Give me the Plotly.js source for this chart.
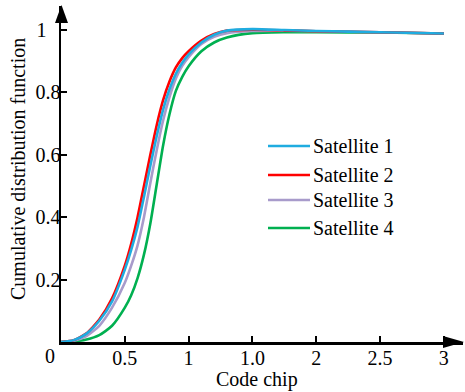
<!DOCTYPE html>
<html>
<head>
<meta charset="utf-8">
<script src="https://cdn.plot.ly/plotly-3.0.1.min.js"></script>
<style>
  html, body { margin: 0; padding: 0; background: #fff; }
  #chart { width: 465px; height: 392px; }
</style>
</head>
<body>
<div id="chart"></div>
<script>
// Code-phase error CDF for four satellites
const codeChip = [0, 0.1, 0.2, 0.3, 0.4, 0.5, 0.55, 0.6, 0.65, 0.7, 0.75, 0.8, 0.85, 0.9, 0.95, 1.0, 1.1, 1.2, 1.3, 1.5, 1.75, 2.0, 2.5, 3.0];

const sat1 = [0, 0.006, 0.027, 0.068, 0.13, 0.232, 0.295, 0.37, 0.465, 0.565, 0.66, 0.745, 0.81, 0.86, 0.895, 0.922, 0.96, 0.985, 0.998, 1.003, 1.0, 0.997, 0.993, 0.989];
const sat2 = [0, 0.006, 0.028, 0.072, 0.14, 0.245, 0.315, 0.40, 0.50, 0.60, 0.695, 0.775, 0.835, 0.88, 0.91, 0.932, 0.966, 0.987, 0.998, 1.001, 0.999, 0.996, 0.993, 0.989];
const sat3 = [0, 0.004, 0.019, 0.052, 0.11, 0.19, 0.245, 0.31, 0.40, 0.51, 0.615, 0.71, 0.785, 0.845, 0.885, 0.913, 0.955, 0.978, 0.99, 0.997, 0.998, 0.996, 0.993, 0.989];
const sat4 = [0, 0.002, 0.008, 0.022, 0.052, 0.11, 0.15, 0.205, 0.28, 0.38, 0.505, 0.63, 0.73, 0.805, 0.85, 0.884, 0.932, 0.96, 0.976, 0.99, 0.993, 0.993, 0.992, 0.989];

const seriesNames = ['Satellite 1', 'Satellite 2', 'Satellite 3', 'Satellite 4'];
const seriesValues = [sat1, sat2, sat3, sat4];
const seriesColors = ['#1FACE0', '#FF0000', '#A89BCB', '#00B050'];

const xTickVals = [0.5, 1, 1.5, 2, 2.5, 3];
const xTickText = ['0.5', '1', '1.0', '2', '2.5', '3'];
const yTickVals = [0.2, 0.4, 0.6, 0.8, 1];
// the top label sits a little left of the others
const yTickText = ['0.2', '0.4', '0.6', '0.8', '1\u2002\u2009'];

const FONT = '"Times New Roman", "Liberation Serif", Times, serif';

// plot box in pixels
const W = 465, H = 392;
const M = { l: 61, r: 2, t: 6, b: 50 };
const plotW = W - M.l - M.r, plotH = H - M.t - M.b;
const px = p => (p - M.l) / plotW;          // page x pixel -> paper
const py = p => (H - M.b - p) / plotH;      // page y pixel -> paper

// draw Satellite 4 first so Satellite 1 ends up on top
const traces = [];
for (let i = seriesNames.length - 1; i >= 0; i--) {
  traces.push({
    x: codeChip,
    y: seriesValues[i],
    name: seriesNames[i],
    type: 'scatter',
    mode: 'lines',
    line: { color: seriesColors[i], width: 2.6, shape: 'spline', smoothing: 0.6 },
    showlegend: false,
    hoverinfo: 'skip'
  });
}

const shapes = [];
const annotations = [];

// hand-placed legend: long line sample + label
const legendRows = [146, 175, 200, 228];
seriesNames.forEach((name, i) => {
  shapes.push({
    type: 'line', xref: 'paper', yref: 'paper',
    x0: px(268), x1: px(310), y0: py(legendRows[i]), y1: py(legendRows[i]),
    line: { color: seriesColors[i], width: 2.6 }
  });
  annotations.push({
    xref: 'paper', yref: 'paper', x: px(311), y: py(legendRows[i]),
    xanchor: 'left', yanchor: 'middle', showarrow: false,
    text: name, font: { family: FONT, size: 20, color: '#000' }
  });
});

// axis arrowheads
shapes.push({
  type: 'path', xref: 'paper', yref: 'paper',
  path: `M ${px(443)} ${py(336)} L ${px(464)} ${py(342)} L ${px(443)} ${py(348)} Z`,
  fillcolor: '#000', line: { color: '#000', width: 0 }
});
shapes.push({
  type: 'path', xref: 'paper', yref: 'paper',
  path: `M ${px(55)} ${py(23)} L ${px(61.5)} ${py(5)} L ${px(68)} ${py(23)} Z`,
  fillcolor: '#000', line: { color: '#000', width: 0 }
});

// axis titles and origin label
annotations.push({
  xref: 'paper', yref: 'paper', x: px(257), y: py(379),
  xanchor: 'center', yanchor: 'middle', showarrow: false,
  text: 'Code chip', font: { family: FONT, size: 20, color: '#000' }
});
annotations.push({
  xref: 'paper', yref: 'paper', x: px(18), y: py(169),
  xanchor: 'center', yanchor: 'middle', showarrow: false, textangle: -90,
  text: 'Cumulative distribution function', font: { family: FONT, size: 20, color: '#000' }
});
annotations.push({
  xref: 'paper', yref: 'paper', x: px(50), y: py(356),
  xanchor: 'center', yanchor: 'middle', showarrow: false,
  text: '0', font: { family: FONT, size: 20, color: '#000' }
});

const layout = {
  width: W, height: H,
  margin: M,
  paper_bgcolor: '#fff', plot_bgcolor: '#fff',
  showlegend: false,
  font: { family: FONT, size: 20, color: '#000' },
  xaxis: {
    range: [0, 3.15], showgrid: false, zeroline: false,
    showline: true, linecolor: '#000', linewidth: 2.5,
    ticks: 'inside', ticklen: 6, tickwidth: 2, tickcolor: '#000',
    ticklabelstandoff: -4,
    tickvals: xTickVals, ticktext: xTickText,
    tickfont: { family: FONT, size: 20, color: '#000' }
  },
  yaxis: {
    range: [0, 1.077], showgrid: false, zeroline: false,
    showline: true, linecolor: '#000', linewidth: 2.5,
    ticks: 'inside', ticklen: 6, tickwidth: 2, tickcolor: '#000',
    ticklabelstandoff: -6,
    tickvals: yTickVals, ticktext: yTickText,
    tickfont: { family: FONT, size: 20, color: '#000' }
  },
  shapes: shapes,
  annotations: annotations
};

Plotly.newPlot('chart', traces, layout, { staticPlot: true, displayModeBar: false });
</script>
</body>
</html>
